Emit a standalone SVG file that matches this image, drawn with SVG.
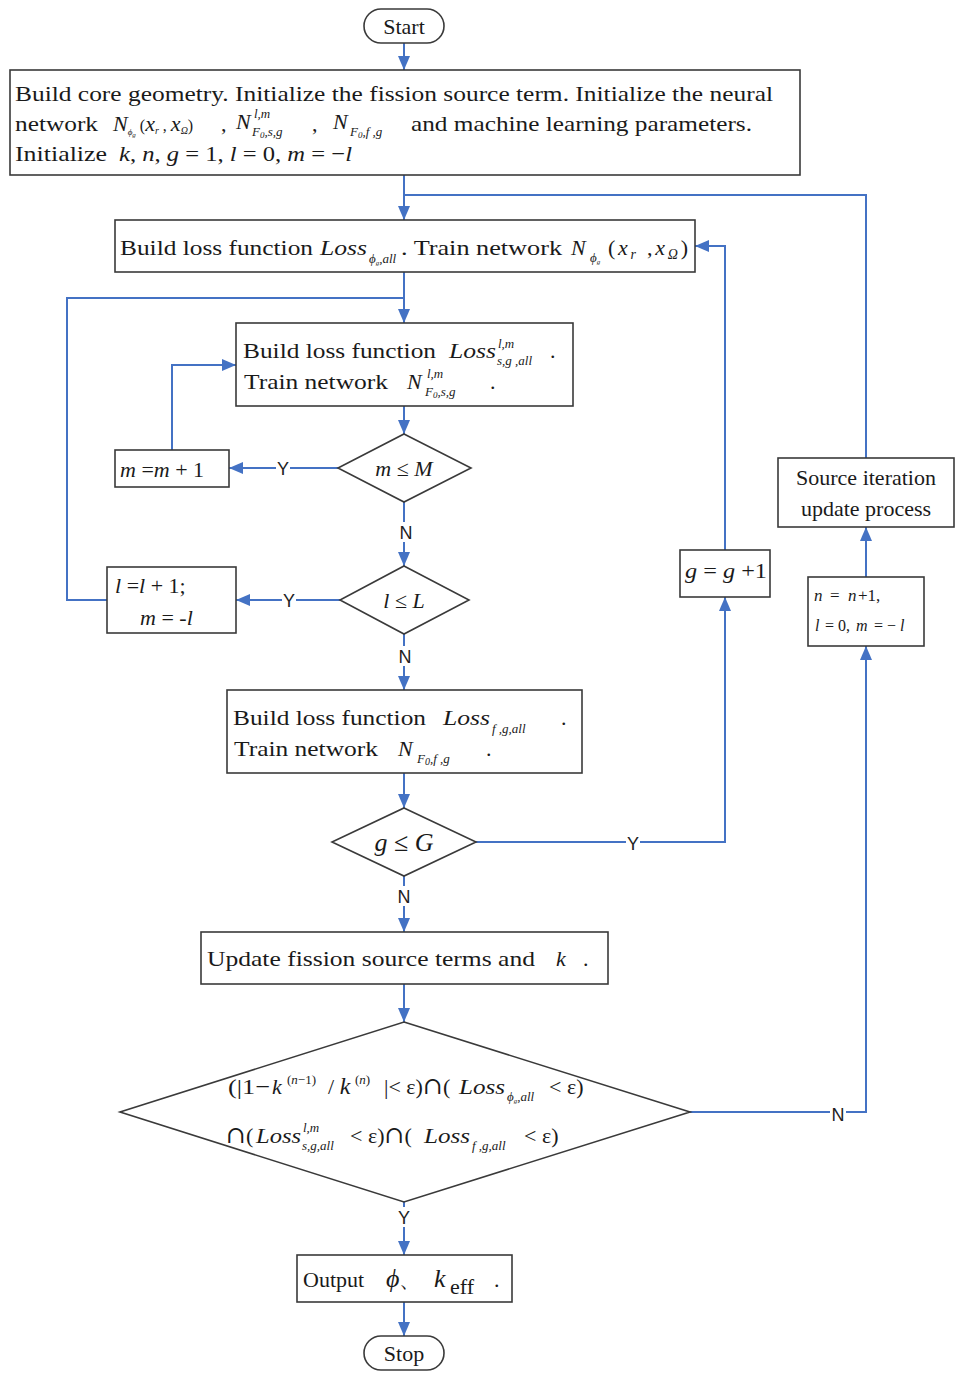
<svg xmlns="http://www.w3.org/2000/svg" width="966" height="1382" viewBox="0 0 966 1382">
<style>
.box{fill:#fff;stroke:#3a3a3a;stroke-width:1.6}
.t{font-family:"Liberation Serif","Times New Roman",serif;font-size:22px;fill:#1a1a1a}
.mi{font-family:"Liberation Serif","Times New Roman",serif;font-style:italic;font-size:22px;fill:#1a1a1a}
.s{font-family:"Liberation Serif","Times New Roman",serif;font-style:italic;font-size:13px;fill:#1a1a1a}
.cap{font-family:"DejaVu Serif",serif;font-style:normal;font-size:24px}
.c{text-anchor:middle}
.lbl{font-family:"Liberation Sans",Arial,sans-serif;font-size:18px;fill:#222;text-anchor:middle}
.ln{fill:none;stroke:#4472C4;stroke-width:2}
.bg{fill:#fff}
</style>
<defs>
<marker id="ah" viewBox="0 0 14 12" refX="14" refY="6" markerWidth="14" markerHeight="12" markerUnits="userSpaceOnUse" orient="auto">
<path d="M0,0 L14,6 L0,12 z" fill="#4472C4"/>
</marker>
</defs>

<g id="connectors">
<path class="ln" d="M404,43 V70" marker-end="url(#ah)"/>
<path class="ln" d="M404,175 V220" marker-end="url(#ah)"/>
<path class="ln" d="M866,458 V195 H404"/>
<path class="ln" d="M404,272 V323" marker-end="url(#ah)"/>
<path class="ln" d="M107,600 H67 V298 H404"/>
<path class="ln" d="M404,406 V434" marker-end="url(#ah)"/>
<path class="ln" d="M338,468 H229" marker-end="url(#ah)"/>
<path class="ln" d="M172,450 V365 H236" marker-end="url(#ah)"/>
<path class="ln" d="M404,502 V566" marker-end="url(#ah)"/>
<path class="ln" d="M340,600 H236" marker-end="url(#ah)"/>
<path class="ln" d="M404,634 V690" marker-end="url(#ah)"/>
<path class="ln" d="M404,773 V808" marker-end="url(#ah)"/>
<path class="ln" d="M476,842 H725 V597" marker-end="url(#ah)"/>
<path class="ln" d="M725,550 V246 H695" marker-end="url(#ah)"/>
<path class="ln" d="M404,876 V932" marker-end="url(#ah)"/>
<path class="ln" d="M404,984 V1022" marker-end="url(#ah)"/>
<path class="ln" d="M690,1112 H866 V646" marker-end="url(#ah)"/>
<path class="ln" d="M866,577 V527" marker-end="url(#ah)"/>
<path class="ln" d="M404,1202 V1255" marker-end="url(#ah)"/>
<path class="ln" d="M404,1302 V1336" marker-end="url(#ah)"/>
<rect class="bg" x="276" y="458" width="14" height="20"/><text class="lbl" x="283" y="475">Y</text>
<rect class="bg" x="282" y="590" width="14" height="20"/><text class="lbl" x="289" y="607">Y</text>
<rect class="bg" x="398" y="522" width="16" height="20"/><text class="lbl" x="406" y="539">N</text>
<rect class="bg" x="397" y="646" width="16" height="20"/><text class="lbl" x="405" y="663">N</text>
<rect class="bg" x="626" y="833" width="14" height="20"/><text class="lbl" x="633" y="850">Y</text>
<rect class="bg" x="396" y="886" width="16" height="20"/><text class="lbl" x="404" y="903">N</text>
<rect class="bg" x="830" y="1104" width="16" height="20"/><text class="lbl" x="838" y="1121">N</text>
<rect class="bg" x="397" y="1207" width="14" height="20"/><text class="lbl" x="404" y="1224">Y</text>
</g>

<g id="start">
<rect class="box" x="364" y="9" width="80" height="34" rx="17"/>
<text class="t c" x="404" y="34">Start</text>
</g>

<g id="init">
<rect class="box" x="10" y="70" width="790" height="105"/>
<text class="t" x="15" y="101" textLength="758" lengthAdjust="spacingAndGlyphs">Build core geometry. Initialize the fission source term. Initialize the neural</text>
<text class="t" x="15" y="131" textLength="83" lengthAdjust="spacingAndGlyphs">network</text>
<text class="mi" x="113" y="131" font-size="16">N<tspan font-size="9" dy="4">ϕ</tspan><tspan font-size="7" dy="2">g</tspan><tspan font-size="16" dy="-6" font-style="normal"> (</tspan>x<tspan font-size="10" dy="3">r</tspan><tspan font-size="16" dy="-3" font-style="normal"> , </tspan>x<tspan font-size="10" dy="3">Ω</tspan><tspan font-size="16" dy="-3" font-style="normal">)</tspan></text>
<text class="t" x="221" y="131">,</text>
<text class="mi" x="236" y="129" font-size="20">N</text>
<text class="s" x="254" y="118">l,m</text>
<text class="s" x="252" y="136">F<tspan font-size="9" dy="2">0</tspan><tspan dy="-2">,s,g</tspan></text>
<text class="t" x="312" y="131">,</text>
<text class="mi" x="333" y="129" font-size="20">N</text>
<text class="s" x="350" y="136">F<tspan font-size="9" dy="2">0</tspan><tspan dy="-2">,f ,g</tspan></text>
<text class="t" x="411" y="131" textLength="341" lengthAdjust="spacingAndGlyphs">and machine learning parameters.</text>
<text class="t" x="15" y="161" textLength="92" lengthAdjust="spacingAndGlyphs">Initialize</text>
<text class="mi" x="119" y="161" textLength="233" lengthAdjust="spacingAndGlyphs">k<tspan font-style="normal">, </tspan>n<tspan font-style="normal">, </tspan>g<tspan font-style="normal"> = 1, </tspan>l<tspan font-style="normal"> = 0, </tspan>m<tspan font-style="normal"> = −</tspan>l</text>
</g>

<g id="train-phi">
<rect class="box" x="115" y="220" width="580" height="52"/>
<text class="t" x="120" y="255" textLength="193" lengthAdjust="spacingAndGlyphs">Build loss function</text>
<text class="mi" x="320" y="255" font-size="24" textLength="47" lengthAdjust="spacingAndGlyphs">Loss</text>
<text class="s" x="369" y="263" font-size="10">ϕ<tspan font-size="7" dy="2">g</tspan><tspan dy="-2">,all</tspan></text>
<text class="t" x="401" y="255" textLength="161" lengthAdjust="spacingAndGlyphs">. Train network</text>
<text class="mi" x="571" y="255" font-size="24">N</text>
<text class="s" x="590" y="262" font-size="10">ϕ<tspan font-size="7" dy="2">g</tspan></text>
<text class="mi" x="608" y="255" font-size="24" textLength="80" lengthAdjust="spacing"><tspan font-style="normal">(</tspan>x<tspan font-size="14" dy="4">r</tspan><tspan dy="-4" font-style="normal"> ,</tspan>x<tspan font-size="14" dy="4">Ω</tspan><tspan dy="-4" font-style="normal">)</tspan></text>
</g>

<g id="train-s">
<rect class="box" x="236" y="323" width="337" height="83"/>
<text class="t" x="243" y="358" textLength="193" lengthAdjust="spacingAndGlyphs">Build loss function</text>
<text class="mi" x="449" y="358" font-size="24" textLength="47" lengthAdjust="spacingAndGlyphs">Loss</text>
<text class="s" x="498" y="348" font-size="14">l,m</text>
<text class="s" x="497" y="365" font-size="14">s,g ,all</text>
<text class="t" x="550" y="358">.</text>
<text class="t" x="244" y="389" textLength="144" lengthAdjust="spacingAndGlyphs">Train network</text>
<text class="mi" x="407" y="389" font-size="24">N</text>
<text class="s" x="427" y="378" font-size="14">l,m</text>
<text class="s" x="425" y="396" font-size="14">F<tspan font-size="9" dy="2">0</tspan><tspan dy="-2">,s,g</tspan></text>
<text class="t" x="490" y="389">.</text>
</g>

<g id="dec-m">
<polygon class="box" points="404,434 471,468 404,502 338,468"/>
<text class="mi c" x="404" y="476">m <tspan font-style="normal">≤</tspan> M</text>
</g>

<g id="m-inc">
<rect class="box" x="115" y="450" width="114" height="37"/>
<text class="mi" x="120" y="477">m <tspan font-style="normal">=</tspan>m <tspan font-style="normal">+ 1</tspan></text>
</g>

<g id="dec-l">
<polygon class="box" points="404,566 469,600 404,634 340,600"/>
<text class="mi c" x="404" y="608">l <tspan font-style="normal">≤</tspan> L</text>
</g>

<g id="l-inc">
<rect class="box" x="107" y="567" width="129" height="66"/>
<text class="mi" x="115" y="593">l <tspan font-style="normal">=</tspan>l <tspan font-style="normal">+ 1;</tspan></text>
<text class="mi" x="140" y="625">m <tspan font-style="normal">= -</tspan>l</text>
</g>

<g id="train-f">
<rect class="box" x="227" y="690" width="355" height="83"/>
<text class="t" x="233" y="725" textLength="193" lengthAdjust="spacingAndGlyphs">Build loss function</text>
<text class="mi" x="443" y="725" font-size="24" textLength="47" lengthAdjust="spacingAndGlyphs">Loss</text>
<text class="s" x="492" y="733" font-size="15">f ,g,all</text>
<text class="t" x="561" y="725">.</text>
<text class="t" x="234" y="756" textLength="144" lengthAdjust="spacingAndGlyphs">Train network</text>
<text class="mi" x="398" y="756" font-size="24">N</text>
<text class="s" x="417" y="763" font-size="15">F<tspan font-size="10" dy="2">0</tspan><tspan dy="-2">,f ,g</tspan></text>
<text class="t" x="486" y="756">.</text>
</g>

<g id="dec-g">
<polygon class="box" points="404,808 476,842 404,876 332,842"/>
<text class="mi c" x="404" y="851" style="font-size:26px">g <tspan font-style="normal">≤</tspan> G</text>
</g>

<g id="g-inc">
<rect class="box" x="680" y="550" width="90" height="47"/>
<text class="mi" x="685" y="578" textLength="82" lengthAdjust="spacingAndGlyphs">g <tspan font-style="normal">=</tspan> g <tspan font-style="normal">+1</tspan></text>
</g>

<g id="update">
<rect class="box" x="201" y="932" width="407" height="52"/>
<text class="t" x="207" y="966" textLength="328" lengthAdjust="spacingAndGlyphs">Update fission source terms and</text>
<text class="mi" x="556" y="966" font-size="24">k</text>
<text class="t" x="583" y="966">.</text>
</g>

<g id="converge">
<polygon class="box" points="404,1022 690,1112 404,1202 120,1112"/>
<text class="t" x="228" y="1094" textLength="42" lengthAdjust="spacingAndGlyphs">(|1−</text>
<text class="mi" x="272" y="1094" font-size="24">k</text>
<text class="s" x="287" y="1084" font-size="14"><tspan font-style="normal">(</tspan>n<tspan font-style="normal">−1)</tspan></text>
<text class="mi" x="328" y="1094"><tspan font-style="normal">/ </tspan><tspan font-size="24">k</tspan></text>
<text class="s" x="355" y="1084" font-size="14"><tspan font-style="normal">(</tspan>n<tspan font-style="normal">)</tspan></text>
<text class="t" x="384" y="1094">|&lt; ε)<tspan class="cap">∩</tspan>(</text>
<text class="mi" x="459" y="1094" font-size="24" textLength="46" lengthAdjust="spacingAndGlyphs">Loss</text>
<text class="s" x="507" y="1101" font-size="10">ϕ<tspan font-size="7" dy="2">g</tspan><tspan dy="-2">,all</tspan></text>
<text class="t" x="549" y="1094">&lt; ε)</text>
<text class="t" x="226" y="1143"><tspan class="cap">∩</tspan>(</text>
<text class="mi" x="256" y="1143" font-size="24" textLength="45" lengthAdjust="spacingAndGlyphs">Loss</text>
<text class="s" x="303" y="1132" font-size="13">l,m</text>
<text class="s" x="302" y="1150" font-size="13">s,g,all</text>
<text class="t" x="350" y="1143">&lt; ε)<tspan class="cap">∩</tspan>(</text>
<text class="mi" x="424" y="1143" font-size="24" textLength="46" lengthAdjust="spacingAndGlyphs">Loss</text>
<text class="s" x="472" y="1150" font-size="14">f ,g,all</text>
<text class="t" x="524" y="1143">&lt; ε)</text>
</g>

<g id="source-iter">
<rect class="box" x="778" y="458" width="176" height="69"/>
<text class="t c" x="866" y="485">Source iteration</text>
<text class="t c" x="866" y="516">update process</text>
</g>

<g id="n-inc">
<rect class="box" x="808" y="577" width="116" height="69"/>
<text class="mi" x="814" y="601" style="font-size:17px">n</text>
<text class="t" x="830" y="601" style="font-size:17px">=</text>
<text class="mi" x="848" y="601" style="font-size:17px">n</text>
<text class="t" x="858" y="601" style="font-size:17px">+1,</text>
<text class="mi" x="815" y="631" style="font-size:16px">l</text>
<text class="t" x="825" y="631" style="font-size:16px">= 0,</text>
<text class="mi" x="856" y="631" style="font-size:16px">m</text>
<text class="t" x="874" y="631" style="font-size:16px">= −</text>
<text class="mi" x="900" y="631" style="font-size:16px">l</text>
</g>

<g id="output">
<rect class="box" x="297" y="1255" width="215" height="47"/>
<text class="t" x="303" y="1287">Output</text>
<text class="mi" x="386" y="1287" style="font-size:26px">ϕ<tspan font-style="normal" font-size="22">、</tspan></text>
<text class="mi" x="434" y="1287" style="font-size:26px">k</text>
<text class="t" x="450" y="1294">eff</text>
<text class="t" x="494" y="1287">.</text>
</g>

<g id="stop">
<rect class="box" x="364" y="1336" width="80" height="34" rx="17"/>
<text class="t c" x="404" y="1361">Stop</text>
</g>
</svg>
